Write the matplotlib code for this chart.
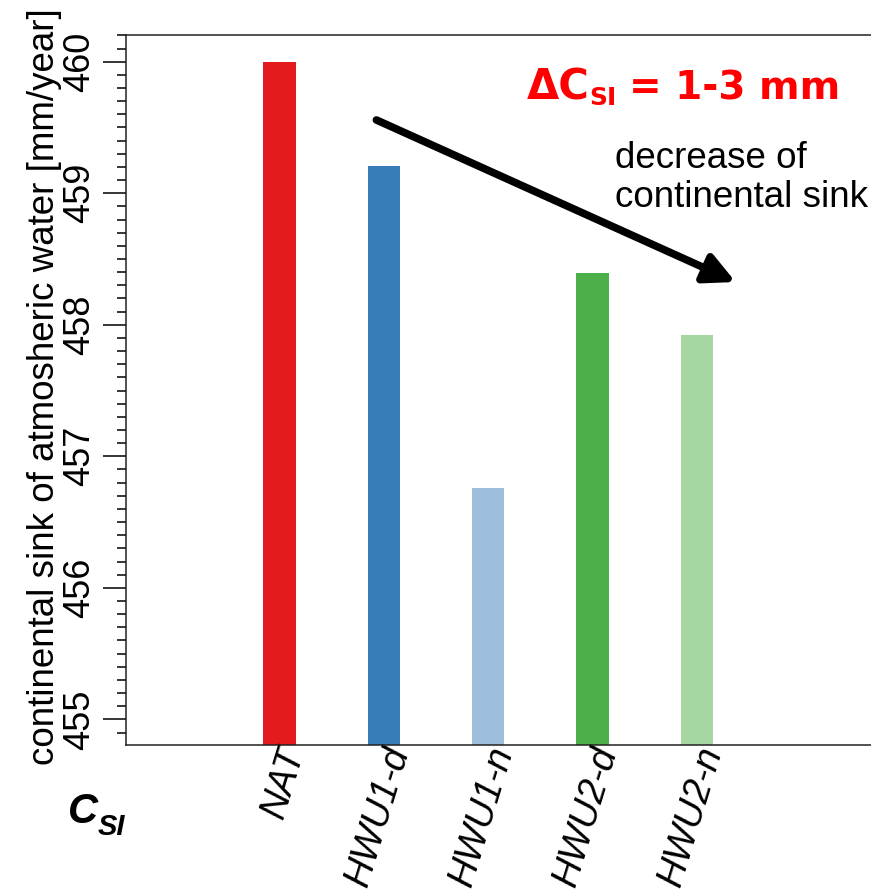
import matplotlib
matplotlib.use("Agg")
import matplotlib.pyplot as plt
from matplotlib.ticker import MultipleLocator
from matplotlib.transforms import ScaledTranslation

plt.rcParams['font.family'] = ['Liberation Sans', 'DejaVu Sans']

categories = ["NAT", "HWU1-d", "HWU1-n", "HWU2-d", "HWU2-n"]
values = [460.0, 459.21, 456.76, 458.39, 457.92]
colors = ["#E41A1C", "#377EB8", "#9EBFDC", "#4DAF4A", "#A6D6A2"]
yticks = [455, 456, 457, 458, 459, 460]

W, H = 871, 894
fig = plt.figure(figsize=(W / 100, H / 100), dpi=100)
ax = fig.add_axes([126 / W, (H - 745) / H, 1 - 126 / W + 0.01, (745 - 35) / H])

x = list(range(1, len(categories) + 1))
ax.bar(x, values, width=0.31, color=colors, bottom=0)
ax.set_xlim(-0.471, 6.75)
ax.set_ylim(454.805, 460.203)

ax.set_yticks(yticks)
ax.yaxis.set_minor_locator(MultipleLocator(0.1))
ax.tick_params(axis='y', which='major', length=16.5, width=1.1, labelsize=26, pad=4.5,
               labelrotation=90)
ax.tick_params(axis='y', which='minor', length=6.5, width=1.1)
for lab in ax.get_yticklabels():
    lab.set_va('center')

ax.set_xticks(x)
ax.set_xticklabels(categories, rotation=73, ha='right', va='center',
                   rotation_mode='anchor', fontsize=27, style='italic')
ax.tick_params(axis='x', length=0, pad=2)
offset = ScaledTranslation(15 / 100, 0, fig.dpi_scale_trans)
for lab in ax.get_xticklabels():
    lab.set_transform(lab.get_transform() + offset)

for s in ['left', 'bottom', 'top']:
    ax.spines[s].set_linewidth(1.1)
    ax.spines[s].set_color('#222222')
ax.spines['right'].set_visible(False)

ax.set_ylabel("continental sink of atmosheric water [mm/year]", fontsize=26.5)
ax.yaxis.set_label_coords(-0.085, 0.505)

ax.annotate("", xy=(5.37, 458.325), xytext=(1.928, 459.557),
            arrowprops=dict(arrowstyle='-|>,head_length=0.9,head_width=0.45',
                            lw=5.5, color='black', shrinkA=0, shrinkB=0,
                            mutation_scale=20))

red = '#FF0000'
fig.text(527 / W, 1 - 99 / H, "ΔC", color=red, fontsize=30, fontweight='bold',
         family='DejaVu Sans', ha='left', va='baseline')
fig.text(589 / W, 1 - 105 / H, "SI", color=red, fontsize=18, fontweight='bold',
         family='DejaVu Sans', ha='left', va='baseline')
fig.text(629 / W, 1 - 99 / H, "= 1-3 mm", color=red, fontsize=28, fontweight='bold',
         family='DejaVu Sans', ha='left', va='baseline')

fig.text(615 / W, 1 - 168 / H, "decrease of", fontsize=26.5, ha='left', va='baseline')
fig.text(615 / W, 1 - 207 / H, "continental sink", fontsize=26.5, ha='left', va='baseline')

fig.text(68 / W, 1 - 823 / H, "C", fontsize=30, fontweight='bold', style='italic',
         ha='left', va='baseline')
fig.text(98 / W, 1 - 835 / H, "SI", fontsize=21, fontweight='bold', style='italic',
         ha='left', va='baseline')

fig.savefig("out.png", dpi=100)
